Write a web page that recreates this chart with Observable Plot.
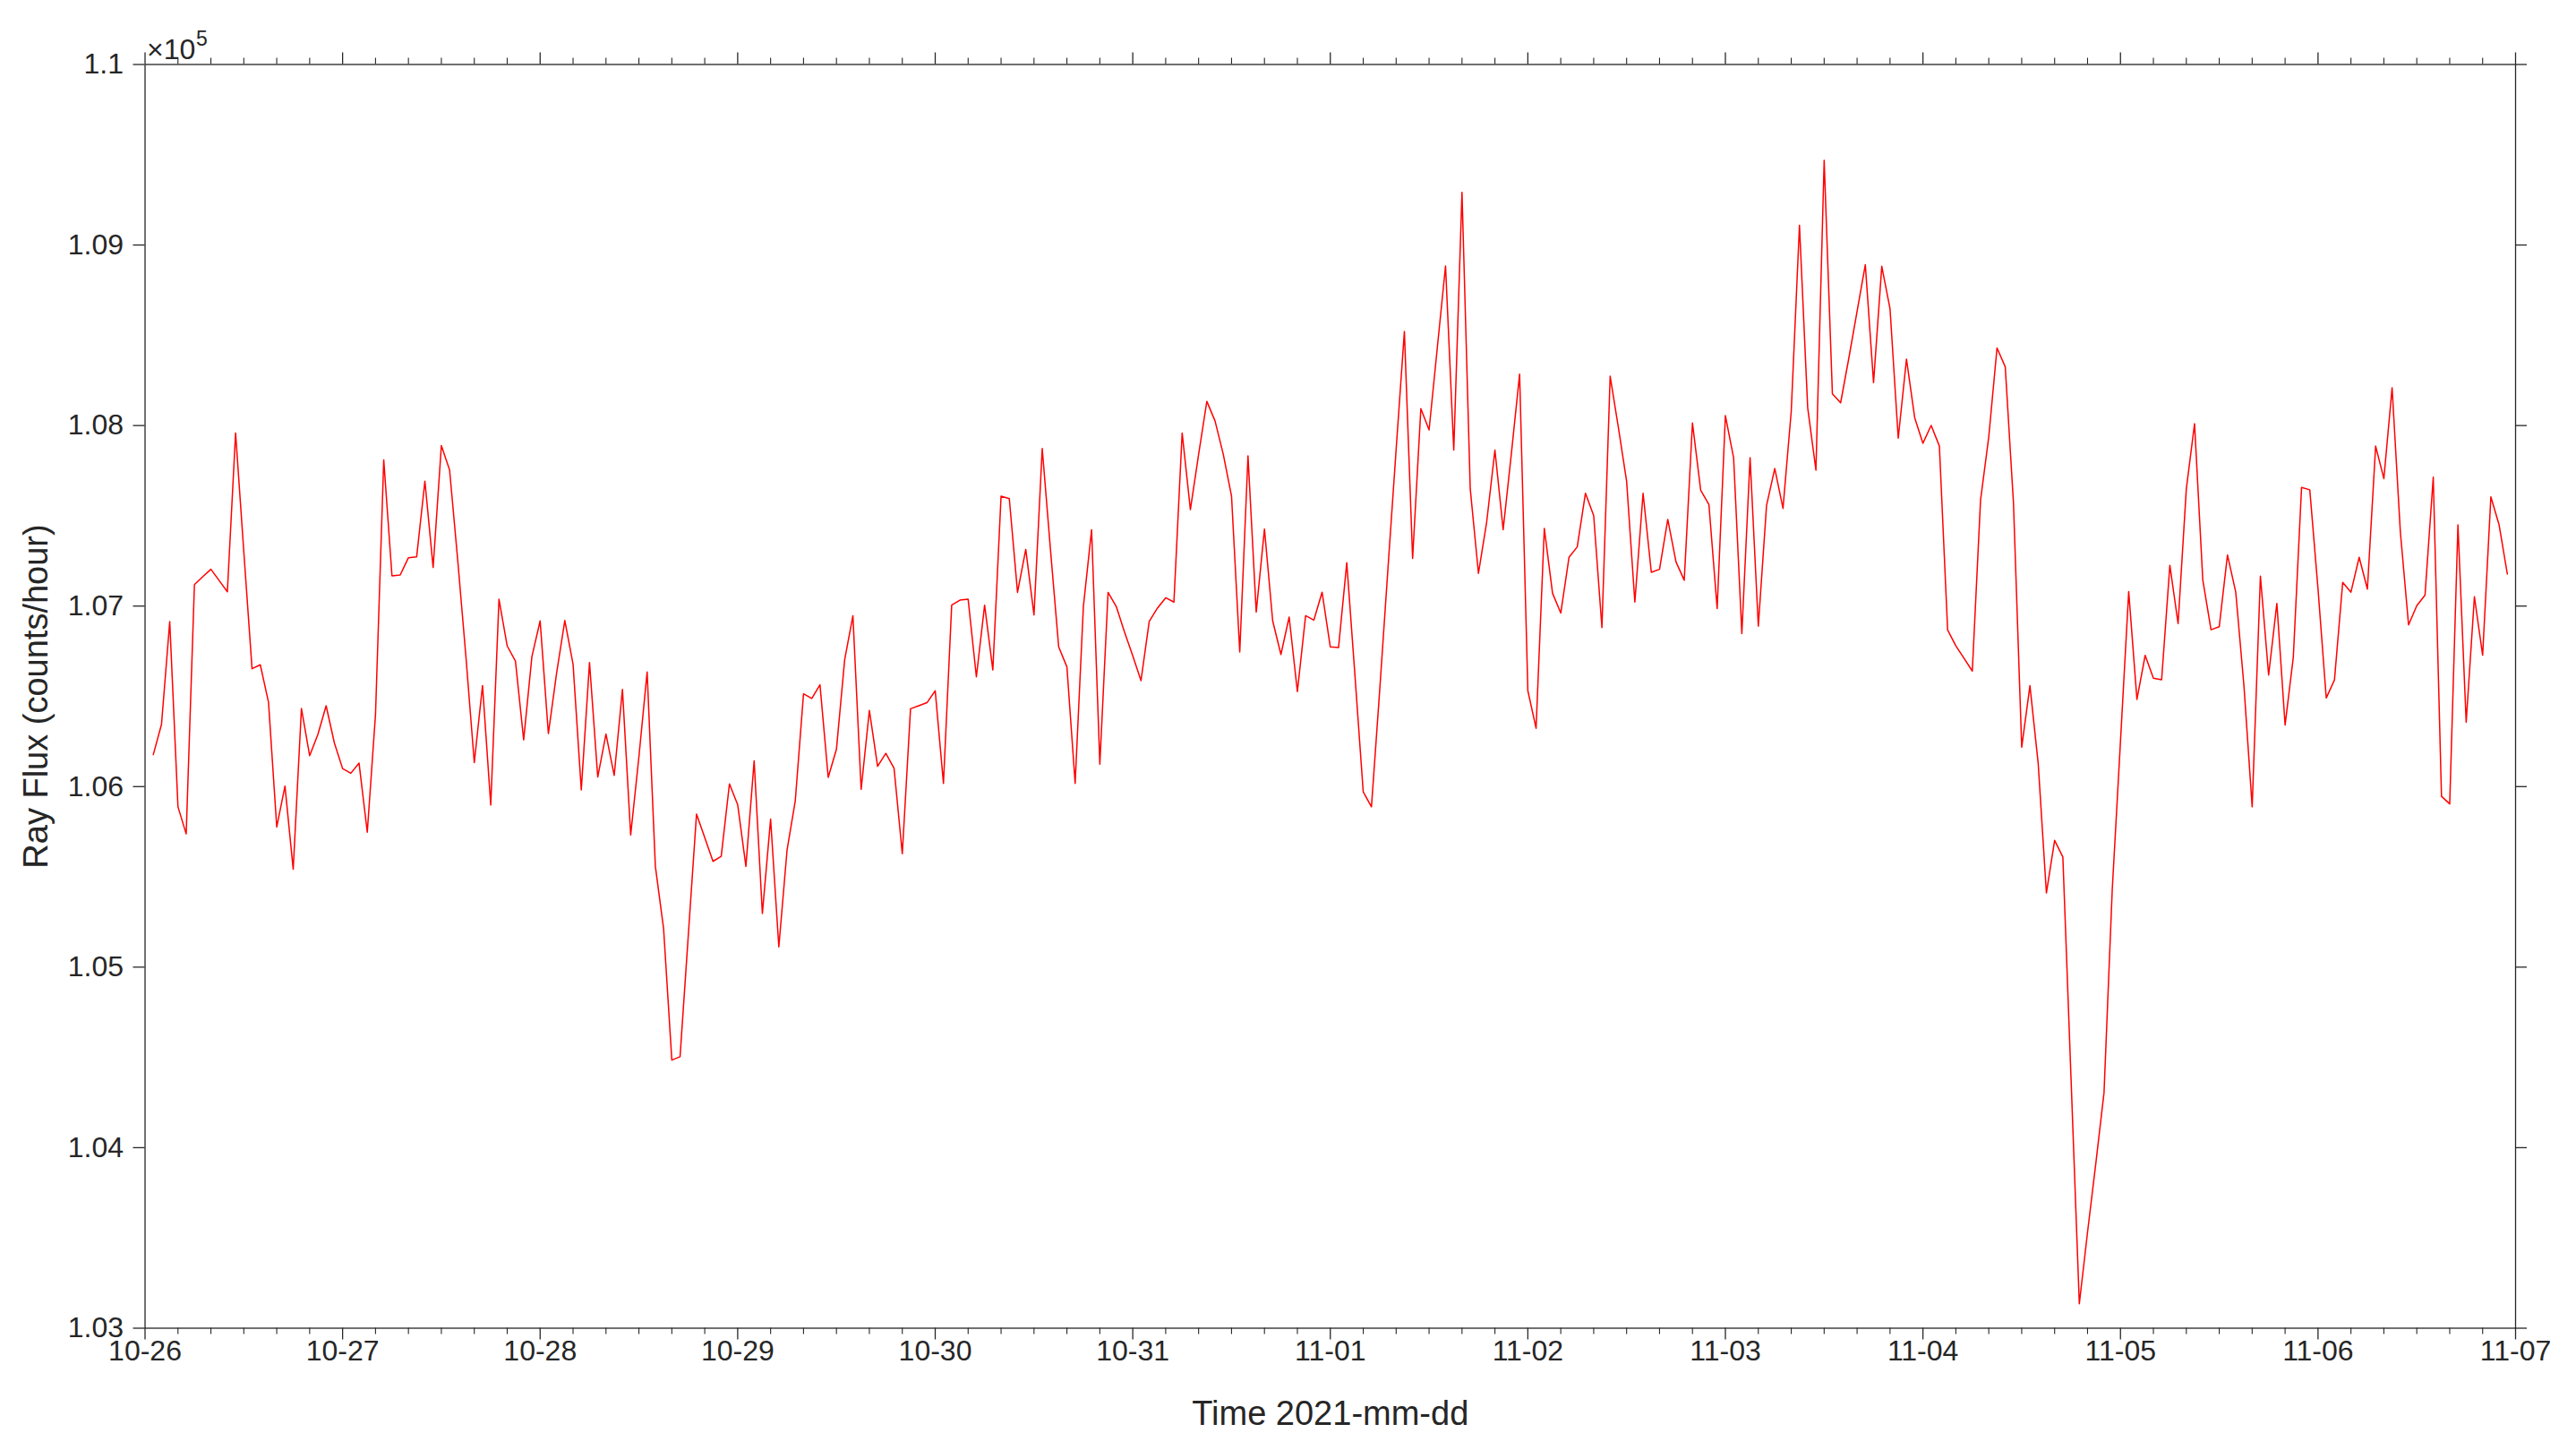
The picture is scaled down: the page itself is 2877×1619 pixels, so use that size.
<!DOCTYPE html>
<html>
<head>
<meta charset="utf-8">
<script src="https://cdn.jsdelivr.net/npm/d3@7"></script>
<script src="https://cdn.jsdelivr.net/npm/@observablehq/plot@0.6"></script>
<style>
  html, body { margin: 0; padding: 0; background: #ffffff; }
  svg { display: block; }
</style>
</head>
<body>
<div id="chart"></div>
<script>
// ---- data (hourly cosmic-ray flux, counts/hour) ----
const firstSample = "2021-10-26T01:00:00Z";   // first hourly sample
const fluxCounts = [
106177,106345,106914,105888,105738,107119,107162,107204,107142,107079,
107959,107300,106653,106675,106467,105776,106003,105542,106433,106171,
106289,106448,106242,106100,106074,106130,105747,106400,107810,107167,
107172,107268,107273,107692,107214,107889,107754,107248,106711,106133,
106560,105898,107038,106779,106695,106259,106720,106918,106294,106628,
106920,106678,105982,106687,106053,106291,106062,106538,105732,106165,
106635,105558,105213,104485,104504,105176,105848,105717,105586,105614,
106015,105900,105558,106143,105297,105820,105112,105649,105922,106514,
106488,106564,106051,106207,106703,106947,105985,106422,106112,106184,
106101,105628,106431,106448,106465,106531,106018,107005,107033,107038,
106608,107005,106646,107609,107595,107076,107314,106951,107873,107314,
106774,106663,106018,106997,107423,106124,107076,106997,106856,106725,
106587,106915,106989,107046,107022,107959,107534,107840,108134,108025,
107840,107609,106746,107832,106967,107427,106918,106732,106939,106526,
106947,106922,107077,106774,106770,107240,106612,105971,105888,106533,
107205,107869,108521,107264,108094,107976,108431,108884,107864,109292,
107650,107181,107466,107864,107423,107845,108285,106531,106323,107430,
107071,106961,107270,107328,107625,107501,106881,108273,107989,107691,
107022,107625,107187,107204,107480,107245,107143,108014,107642,107562,
106986,108055,107821,106847,107822,106889,107557,107762,107541,108079,
109109,108098,107753,109469,108176,108126,108374,108633,108891,108238,
108882,108648,107930,108368,108043,107902,108001,107886,106868,106780,
106710,106640,107587,107938,108430,108325,107570,106218,106559,106130,
105411,105702,105610,104375,103135,103532,103911,104304,105428,106250,
107080,106483,106727,106601,106592,107226,106903,107649,108010,107146,
106869,106886,107283,107079,106559,105888,107166,106618,107015,106341,
106718,107657,107644,107095,106491,106591,107131,107077,107270,107094,
107886,107706,108209,107413,106896,107002,107061,107714,105946,105904,
107450,106356,107052,106728,107605,107450,107178
];

// ---- axes ----
const xDomain = ["2021-10-26", "2021-11-07"];
const dayTicks = ["2021-10-26","2021-10-27","2021-10-28","2021-10-29","2021-10-30","2021-10-31",
                  "2021-11-01","2021-11-02","2021-11-03","2021-11-04","2021-11-05","2021-11-06","2021-11-07"];
const dayTickLabels = ["10-26","10-27","10-28","10-29","10-30","10-31",
                       "11-01","11-02","11-03","11-04","11-05","11-06","11-07"];
const yDomain = [103000, 110000];
const yTicks = [103000, 104000, 105000, 106000, 107000, 108000, 109000, 110000];
const yTickLabels = ["1.03","1.04","1.05","1.06","1.07","1.08","1.09","1.1"];
const exponentBase = "×10";
const exponentPower = "5";
const xLabel = "Time 2021-mm-dd";
const yLabel = "Ray Flux (counts/hour)";

// ---- build tables ----
const t0 = Date.parse(firstSample);
const rows = fluxCounts.map((v, i) => ({t: new Date(t0 + i * 3600e3), v}));
const dayDates = dayTicks.map(d => new Date(d + "T00:00:00Z"));
const xTickRows = dayDates.map((d, i) => ({d, label: dayTickLabels[i]}));
const yTickRows = yTicks.map((v, i) => ({v, label: yTickLabels[i]}));
const minorDates = d3.utcHour.every(4).range(new Date(xDomain[0] + "T00:00:00Z"), new Date(xDomain[1] + "T00:00:01Z"))
  .filter(d => d.getUTCHours() !== 0);

// ---- layout ----
const W = 2877, H = 1619;
const mL = 161.5, mR = 68, mT = 71.5, mB = 136.5;
const frameW = W - mL - mR, frameH = H - mT - mB;
const T = 13, Tm = 7;
const ink = "#262626";
const font = "'Liberation Sans', Arial, Helvetica, sans-serif";
const tickFont = 32, labelFont = 38;

const chart = Plot.plot({
  width: W, height: H,
  marginLeft: mL, marginRight: mR, marginTop: mT, marginBottom: mB,
  style: {fontFamily: font, background: "#ffffff", overflow: "visible"},
  x: {type: "utc", domain: xDomain.map(d => new Date(d + "T00:00:00Z")), axis: null},
  y: {domain: yDomain, axis: null},
  marks: [
    Plot.line(rows, {x: "t", y: "v", stroke: "#ff0000", strokeWidth: 1.5}),
    Plot.frame({stroke: ink, strokeWidth: 1.3}),
    // major x ticks (bottom and top, outward)
    Plot.ruleX(dayDates, {x: d => d, stroke: ink, strokeWidth: 1.3, insetTop: frameH, insetBottom: -T}),
    Plot.ruleX(dayDates, {x: d => d, stroke: ink, strokeWidth: 1.3, insetTop: -T, insetBottom: frameH}),
    // minor x ticks
    Plot.ruleX(minorDates, {x: d => d, stroke: ink, strokeWidth: 1.1, insetTop: frameH, insetBottom: -Tm}),
    Plot.ruleX(minorDates, {x: d => d, stroke: ink, strokeWidth: 1.1, insetTop: -Tm, insetBottom: frameH}),
    // y ticks (left and right, outward)
    Plot.ruleY(yTicks, {y: d => d, stroke: ink, strokeWidth: 1.3, insetLeft: -T, insetRight: frameW}),
    Plot.ruleY(yTicks, {y: d => d, stroke: ink, strokeWidth: 1.3, insetLeft: frameW, insetRight: -T}),
    // tick labels
    Plot.text(xTickRows, {x: "d", text: "label", frameAnchor: "bottom", dy: 26, lineAnchor: "middle",
      textAnchor: "middle", fontSize: tickFont, fill: ink}),
    Plot.text(yTickRows, {y: "v", text: "label", frameAnchor: "left", dx: -24, textAnchor: "end",
      lineAnchor: "middle", fontSize: tickFont, fill: ink}),
    // exponent
    Plot.text([exponentBase], {text: d => d, frameAnchor: "top-left", dx: 2, dy: -6, textAnchor: "start",
      lineAnchor: "bottom", fontSize: tickFont, fill: ink}),
    Plot.text([exponentPower], {text: d => d, frameAnchor: "top-left", dx: 57, dy: -21, textAnchor: "start",
      lineAnchor: "bottom", fontSize: 23, fill: ink}),
    // axis labels
    Plot.text([xLabel], {text: d => d, frameAnchor: "bottom", dy: 96, lineAnchor: "middle",
      textAnchor: "middle", fontSize: labelFont, fill: ink}),
    Plot.text([yLabel], {text: d => d, frameAnchor: "left", dx: -121.5, rotate: -90, lineAnchor: "middle",
      textAnchor: "middle", fontSize: labelFont, fill: ink})
  ]
});
document.getElementById("chart").appendChild(chart);
</script>
</body>
</html>
